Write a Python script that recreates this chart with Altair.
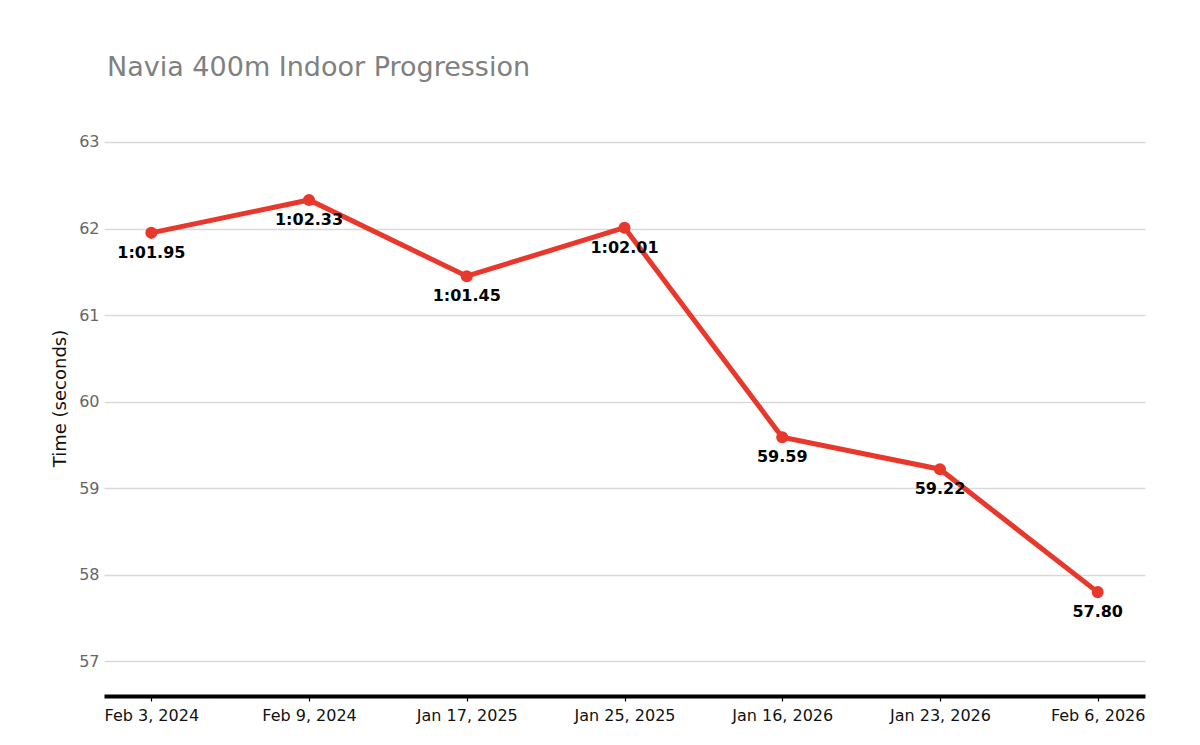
import altair as alt
import pandas as pd

dates = ["Feb 3, 2024", "Feb 9, 2024", "Jan 17, 2025", "Jan 25, 2025",
         "Jan 16, 2026", "Jan 23, 2026", "Feb 6, 2026"]
times = [61.95, 62.33, 61.45, 62.01, 59.59, 59.22, 57.80]
labels = ["1:01.95", "1:02.33", "1:01.45", "1:02.01", "59.59", "59.22", "57.80"]

df = pd.DataFrame({"date": dates, "time": times, "label": labels})

FONT = "DejaVu Sans"
RED = "#e8382b"

x = alt.X("date:N", sort=dates, title=None,
          scale=alt.Scale(type="point", padding=0.3),
          axis=alt.Axis(labelAngle=0, labelFontSize=16, labelColor="#111111",
                        labelFont=FONT, domainColor="#000000", domainWidth=4,
                        tickColor="#000000", tickSize=5, tickWidth=1.2,
                        labelPadding=6, grid=False))
y = alt.Y("time:Q", title="Time (seconds)",
          scale=alt.Scale(domain=[56.6, 63.3], nice=False, zero=False),
          axis=alt.Axis(values=[57, 58, 59, 60, 61, 62, 63], labelFontSize=16,
                        labelColor="#666666", labelFont=FONT, domain=False,
                        ticks=False, labelPadding=5, gridColor="#d9d9d9",
                        gridWidth=1.5, titleFont=FONT, titleFontSize=18,
                        titleFontWeight="normal", titleColor="#111111",
                        titlePadding=9, titleY=282))

base = alt.Chart(df).encode(x=x, y=y)

line = base.mark_line(color=RED, strokeWidth=5)
pts = base.mark_circle(color=RED, size=145, opacity=1)
txt = base.mark_text(dy=20, fontSize=16, fontWeight="bold", font=FONT,
                     color="#000000").encode(text="label:N")

chart = (line + pts + txt).properties(
    width=1041, height=580,
    autosize=alt.AutoSizeParams(type="none"),
    padding={"left": 96, "top": 108, "right": 47, "bottom": 40},
    title=alt.TitleParams("Navia 400m Indoor Progression", anchor="start",
                          frame="group", font=FONT, fontSize=27,
                          fontWeight="normal", color="#808080", offset=34,
                          dx=3),
).configure_view(stroke=None)

chart.save("out.html", embed_options={"renderer": "svg", "actions": False})
